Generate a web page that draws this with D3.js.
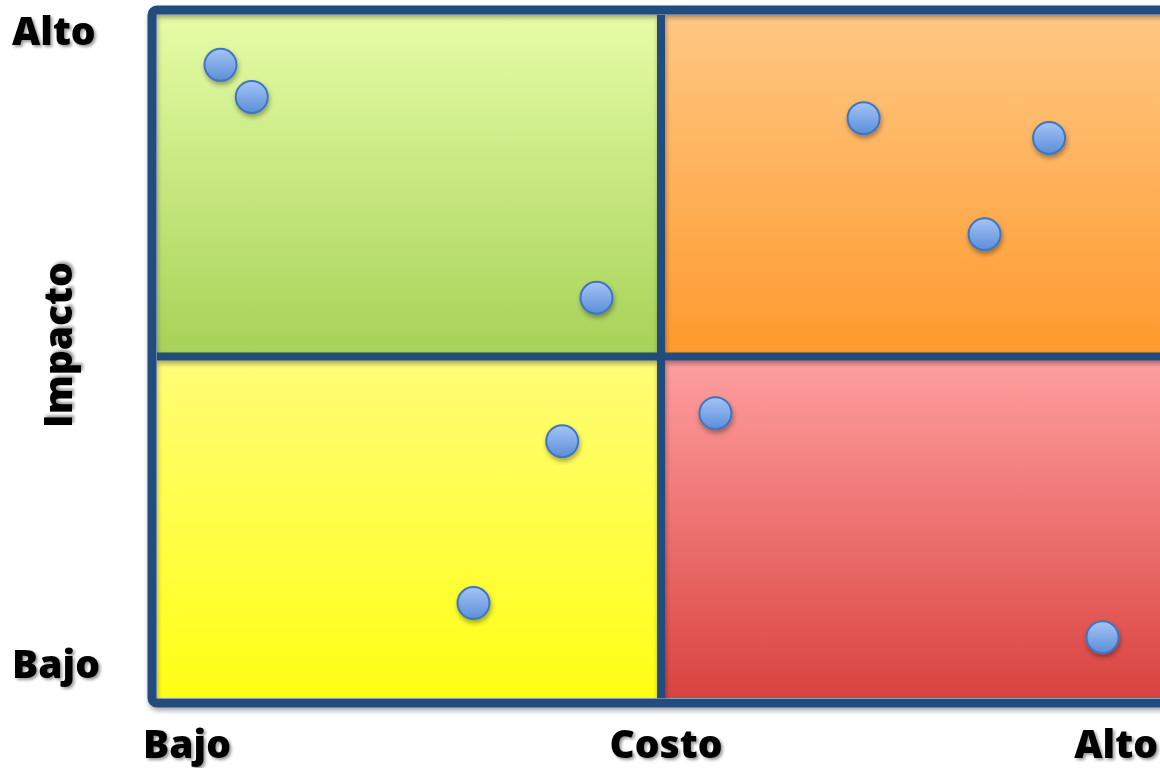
<!DOCTYPE html>
<html>
<head>
<meta charset="utf-8">
<script src="https://cdn.jsdelivr.net/npm/d3@7"></script>
<style>
  body { margin: 0; background: #fff; }
  svg { display: block; }
</style>
</head>
<body>
<svg id="chart"></svg>
<script>
// cost / impact matrix
var costo   = [0.63, 0.94, 4.36, 7.01, 8.85, 8.21, 5.54, 4.02, 3.14, 9.38];
var impacto = [9.27, 8.80, 5.86, 8.49, 8.20, 6.79, 4.17, 3.76, 1.39, 0.89];

var xLabels = ['Bajo', 'Costo', 'Alto'];
var yLabels = ['Bajo', 'Alto'];

// quadrants: lower-left corner + top/bottom colour of the gradient
var quadX0 = [0, 5, 0, 5];
var quadY0 = [5, 5, 0, 0];
var quadTop = ['#e6fca6', '#ffc884', '#fffd78', '#ffa0a0'];
var quadBot = ['#a6d257', '#ff992c', '#ffff14', '#d9433f'];

var width = 1160, height = 768;
var svg = d3.select('#chart')
    .attr('width', width)
    .attr('height', height);

var x = d3.scaleLinear().domain([0, 10]).range([157, 1165]);
var y = d3.scaleLinear().domain([0, 10]).range([698, 15]);

var defs = svg.append('defs');

quadTop.forEach(function(c, i) {
    var g = defs.append('linearGradient')
        .attr('id', 'q' + i)
        .attr('x1', 0).attr('y1', 0).attr('x2', 0).attr('y2', 1);
    g.append('stop').attr('offset', '0%').attr('stop-color', c);
    g.append('stop').attr('offset', '100%').attr('stop-color', quadBot[i]);
});

var dotGrad = defs.append('linearGradient')
    .attr('id', 'dot')
    .attr('x1', 0).attr('y1', 0).attr('x2', 0).attr('y2', 1);
dotGrad.append('stop').attr('offset', '0%').attr('stop-color', '#a4c4f6');
dotGrad.append('stop').attr('offset', '100%').attr('stop-color', '#5b8ed8');

var shadow = defs.append('filter').attr('id', 'shadow')
    .attr('filterUnits', 'userSpaceOnUse')
    .attr('x', 0).attr('y', 0).attr('width', width).attr('height', height);
shadow.append('feDropShadow')
    .attr('dx', 1).attr('dy', 3).attr('stdDeviation', 2.5)
    .attr('flood-color', '#000').attr('flood-opacity', 0.35);

// bbox based so it also works on the rotated label
var txtShadow = defs.append('filter').attr('id', 'tshadow')
    .attr('x', '-20%').attr('y', '-30%').attr('width', '140%').attr('height', '160%');
txtShadow.append('feDropShadow')
    .attr('dx', 2).attr('dy', 2).attr('stdDeviation', 1.5)
    .attr('flood-color', '#000').attr('flood-opacity', 0.4);

// quadrant fills
svg.selectAll('rect.quad')
    .data(quadX0)
    .enter()
    .append('rect')
    .attr('class', 'quad')
    .attr('x', function(d) { return x(d); })
    .attr('y', function(d, i) { return y(quadY0[i] + 5); })
    .attr('width', x(5) - x(0))
    .attr('height', y(0) - y(5))
    .attr('fill', function(d, i) { return 'url(#q' + i + ')'; });

// frame and dividers
var frameColor = '#234b7e';
var frame = svg.append('g').attr('filter', 'url(#shadow)');

frame.append('rect')
    .attr('x', x(0) - 5)
    .attr('y', y(10) - 5)
    .attr('width', x(10) - x(0) + 10)
    .attr('height', y(0) - y(10) + 10)
    .attr('rx', 5)
    .attr('fill', 'none')
    .attr('stroke', frameColor)
    .attr('stroke-width', 9);

frame.append('line')
    .attr('x1', x(5)).attr('x2', x(5))
    .attr('y1', y(10)).attr('y2', y(0))
    .attr('stroke', frameColor)
    .attr('stroke-width', 8);

frame.append('line')
    .attr('x1', x(0)).attr('x2', x(10))
    .attr('y1', y(5)).attr('y2', y(5))
    .attr('stroke', frameColor)
    .attr('stroke-width', 8);

// points
svg.selectAll('circle')
    .data(costo)
    .enter()
    .append('circle')
    .attr('cx', function(d) { return x(d); })
    .attr('cy', function(d, i) { return y(impacto[i]); })
    .attr('r', 16)
    .attr('fill', 'url(#dot)')
    .attr('stroke', '#3f74bf')
    .attr('stroke-width', 2)
    .attr('filter', 'url(#shadow)');

// labels
var font = "'Open Sans', sans-serif";

svg.selectAll('text.xl')
    .data(xLabels)
    .enter()
    .append('text')
    .attr('class', 'xl')
    .attr('x', function(d, i) { return [143, 666, 1158][i]; })
    .attr('y', 758)
    .attr('text-anchor', function(d, i) { return ['start', 'middle', 'end'][i]; })
    .style('font-family', font)
    .style('font-weight', 800)
    .style('font-size', '39px')
    .attr('filter', 'url(#tshadow)')
    .text(function(d) { return d; });

svg.selectAll('text.yl')
    .data(yLabels)
    .enter()
    .append('text')
    .attr('class', 'yl')
    .attr('x', 12)
    .attr('y', function(d, i) { return [678, 45][i]; })
    .style('font-family', font)
    .style('font-weight', 800)
    .style('font-size', '39px')
    .attr('filter', 'url(#tshadow)')
    .text(function(d) { return d; });

svg.append('text')
    .attr('transform', 'translate(72,345) rotate(-90)')
    .attr('text-anchor', 'middle')
    .style('font-family', font)
    .style('font-weight', 800)
    .style('font-size', '39px')
    .attr('filter', 'url(#tshadow)')
    .text('Impacto');
</script>
</body>
</html>
